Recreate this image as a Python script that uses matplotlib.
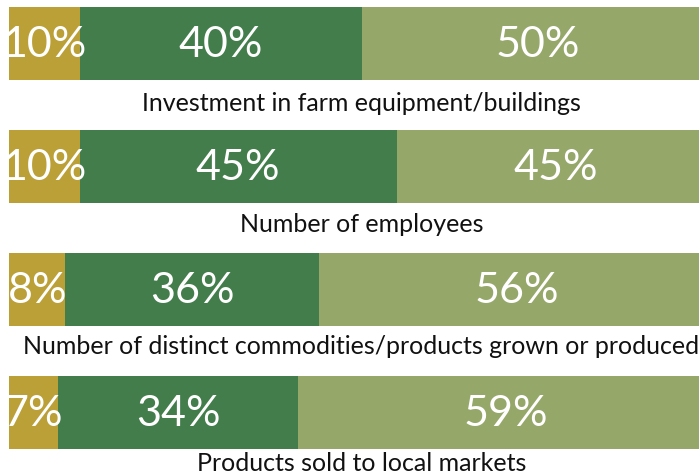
import matplotlib
matplotlib.use("Agg")
import matplotlib.pyplot as plt

categories = [
    "Investment in farm equipment/buildings",
    "Number of employees",
    "Number of distinct commodities/products grown or produced",
    "Products sold to local markets",
]
decreased = [10, 10, 8, 7]
same = [40, 45, 36, 34]
increased = [50, 45, 56, 59]
series = [decreased, same, increased]
colors = ["#BBA037", "#437D4B", "#96A76A"]

# layout: label baseline offsets below bar centre (in bar-pitch units)
label_offsets = [67.5 / 123, 65.5 / 123, 64.5 / 123, 58.5 / 123]

W, H = 699, 475
fig = plt.figure(figsize=(W / 100, H / 100), dpi=100)
ax = fig.add_axes([9 / W, 0, 705 / W, 1])
ax.set_xlim(0, 100)
ax.set_ylim(3.508, -0.354)
ax.axis("off")

bar_h = 73 / 123
for i, cat in enumerate(categories):
    left = 0
    for vals, col in zip(series, colors):
        v = vals[i]
        ax.barh(i, v, left=left, height=bar_h, color=col, linewidth=0)
        ax.text(left + v / 2, i + 0.01, f"{v}%", ha="center", va="center",
                color="white", fontsize=31, family="Lato")
        left += v
    ax.text(50, i + label_offsets[i], cat, ha="center", va="baseline",
            color="#111111", fontsize=18, family="Lato")

fig.savefig("out.png", dpi=100)
